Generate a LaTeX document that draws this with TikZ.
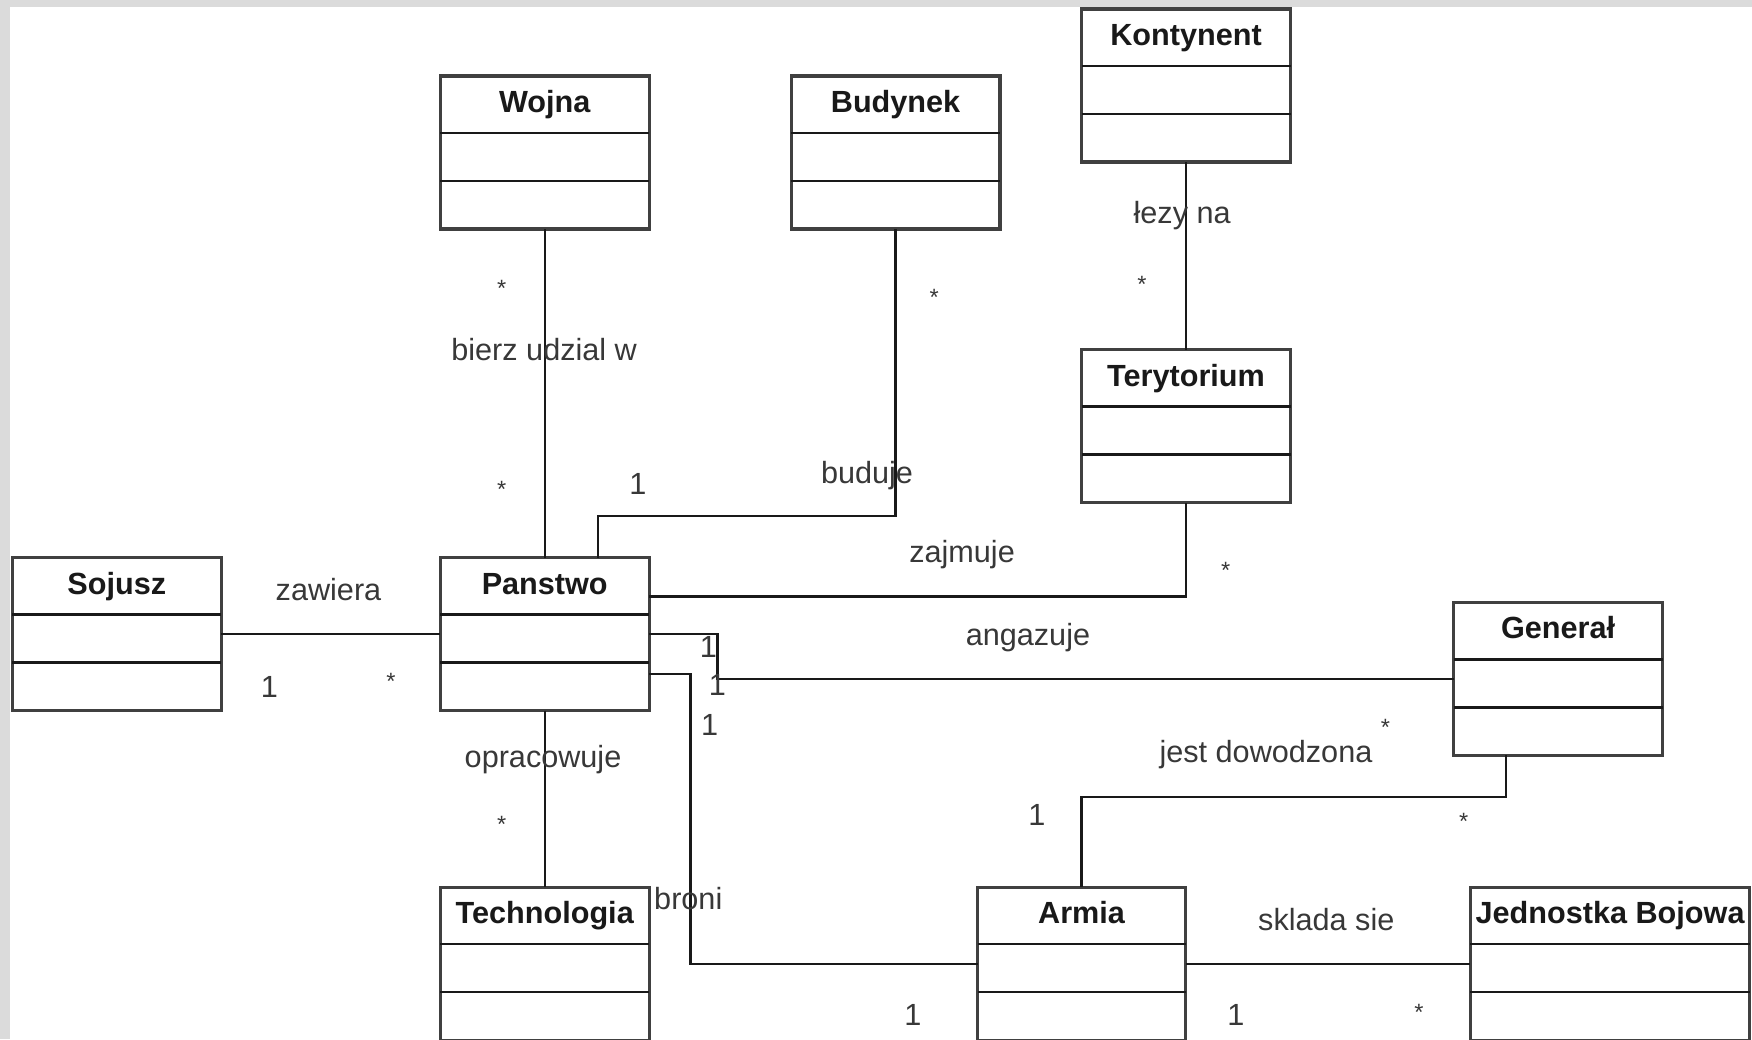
\documentclass[tikz,border=0pt]{standalone}
\usepackage{fontspec}
\setmainfont{Liberation Sans}
\usetikzlibrary{calc}

% UML class box: name, left, top, width, title
\newcommand\umlclass[5]{%
  \node[classbox, minimum width=#4*0.02cm, anchor=north west] (#1) at (#2,#3) {};
  \draw[divider] ($(#1.north west)+(0,51)$) -- ($(#1.north east)+(0,51)$);
  \draw[divider] ($(#1.north west)+(0,94)$) -- ($(#1.north east)+(0,94)$);
  \node[classname] (#1-title) at ($(#1.north)+(0,23)$) {#5};
}

\begin{document}
\begin{tikzpicture}[x=0.02cm, y=-0.02cm,
  every node/.style={font=\fontsize{15.6pt}{18pt}\selectfont},
  classbox/.style={draw=black!75, line width=1.6pt, rectangle, fill=white,
    minimum height=137*0.02cm, inner sep=0pt, outer sep=0pt},
  divider/.style={draw=black!90, line width=1.3pt},
  classname/.style={font=\fontsize{15.6pt}{18pt}\selectfont\bfseries, text=black!90,
    inner sep=0pt, text height=11.2pt, text depth=0pt},
  assoc/.style={draw=black!90, line width=1.2pt},
  lbl/.style={text=black!78, inner sep=0pt, text height=11.2pt, text depth=0pt},
  star/.style={font=\fontsize{12pt}{14pt}\selectfont, text=black!78, inner sep=0pt, anchor=base}
]
% page and grey frame
\useasboundingbox (0,0) rectangle (1568,930);
\fill[white] (0,0) rectangle (1568,930);
\fill[black!14] (0,0) rectangle (1568,6.3);
\fill[black!14] (0,0) rectangle (9,930);

% classes
\umlclass{wojna}{394}{68}{187}{Wojna}
\umlclass{budynek}{708}{68}{187}{Budynek}
\umlclass{kontynent}{968}{8}{187}{Kontynent}
\umlclass{terytorium}{968}{313}{187}{Terytorium}
\umlclass{sojusz}{11}{499}{187}{Sojusz}
\umlclass{panstwo}{394}{499}{187}{Panstwo}
\umlclass{general}{1301}{539}{187}{Generał}
\umlclass{technologia}{394}{794}{187}{Technologia}
\umlclass{armia}{875}{794}{186}{Armia}
\umlclass{jednostka}{1316}{794}{250}{Jednostka Bojowa}

% associations
\draw[assoc] (wojna) -- (panstwo);
\draw[assoc] (budynek.south) |- ($(panstwo.north)+(47.5,-37)$) -- ($(panstwo.north)+(47.5,0)$);
\draw[assoc] (kontynent) -- (terytorium);
\draw[assoc] (terytorium.south) |- ($(panstwo.east)+(0,-33.5)$);
\draw[assoc] (sojusz.east) -- (panstwo.west);
\draw[assoc] (panstwo.east) -| ($(general.west)+(-659,0)$) -- (general.west);
\draw[assoc] ($(panstwo.east)+(0,35.5)$) -| ($(armia.west)+(-257,0)$) -- (armia.west);
\draw[assoc] (panstwo) -- (technologia);
\draw[assoc] ($(general.south)+(-46.5,0)$) |- ($(armia.north)+(0,-81)$) -- (armia.north);
\draw[assoc] (armia.east) -- (jednostka.west);

% association names
\node[lbl] (l-bierz) at (487,313) {bierz udzial w};
\node[lbl] (l-buduje) at (776,423) {buduje};
\node[lbl] (l-lezy) at (1058,190) {łezy na};
\node[lbl] (l-zajmuje) at (861,494) {zajmuje};
\node[lbl] (l-zawiera) at (294,528) {zawiera};
\node[lbl] (l-angazuje) at (920,568) {angazuje};
\node[lbl] (l-opracowuje) at (486,677) {opracowuje};
\node[lbl] (l-broni) at (616,804) {broni};
\node[lbl] (l-dowodzona) at (1133,673) {jest dowodzona};
\node[lbl] (l-sklada) at (1187,823) {sklada sie};

% multiplicities
\node[star] (m1) at (449,265) {*};
\node[star] (m2) at (449,445) {*};
\node[star] (m3) at (836,273) {*};
\node[lbl] (m4) at (571,433) {1};
\node[star] (m5) at (1022,262) {*};
\node[star] (m6) at (1097,518) {*};
\node[lbl] (m7) at (241,614) {1};
\node[star] (m8) at (350,617) {*};
\node[lbl] (m9) at (634,579) {1};
\node[lbl] (m10) at (642,613) {1};
\node[lbl] (m11) at (635,648) {1};
\node[star] (m12) at (1240,658) {*};
\node[star] (m13) at (449,745) {*};
\node[lbl] (m14) at (817,908) {1};
\node[lbl] (m15) at (928,729) {1};
\node[star] (m16) at (1310,742) {*};
\node[lbl] (m17) at (1106,908) {1};
\node[star] (m18) at (1270,913) {*};
\end{tikzpicture}
\end{document}
